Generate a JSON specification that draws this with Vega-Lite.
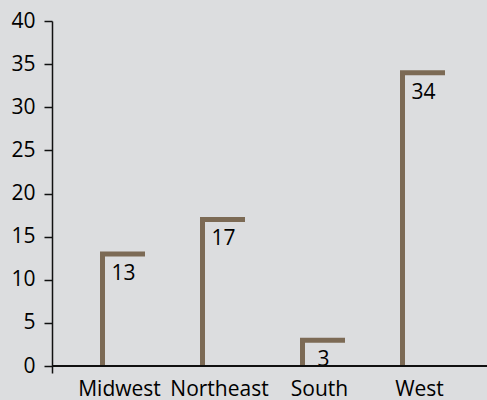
{
  "$schema": "https://vega.github.io/schema/vega-lite/v6.json",
  "autosize": {"type": "none"},
  "padding": {"left": 52, "top": 21, "right": 0, "bottom": 27},
  "width": 435,
  "height": 352,
  "background": "#dcdddf",
  "config": {
    "view": {"stroke": null},
    "font": "Open Sans",
    "text": {"font": "Open Sans"}
  },
  "data": {
    "values": [
      {"region": "Midwest", "count": 13},
      {"region": "Northeast", "count": 17},
      {"region": "South", "count": 3},
      {"region": "West", "count": 34}
    ]
  },
  "layer": [
    {
      "mark": {"type": "rule", "strokeWidth": 5, "strokeCap": "butt", "color": "#7c6a55", "xOffset": -17},
      "encoding": {
        "x": {
          "field": "region",
          "type": "nominal",
          "sort": null,
          "scale": {"paddingInner": 0, "paddingOuter": 0.175},
          "axis": {
            "title": null,
            "labelAngle": 0,
            "ticks": false,
            "tickSize": 0,
            "domain": false,
            "labelFontSize": 21,
            "labelPadding": 5,
            "labelColor": "#000000"
          }
        },
        "y": {
          "field": "count",
          "type": "quantitative",
          "scale": {"domain": [-0.8, 40], "nice": false, "zero": false},
          "axis": {
            "title": null,
            "values": [0, 5, 10, 15, 20, 25, 30, 35, 40],
            "grid": false,
            "domainColor": "#111111",
            "domainWidth": 1.5,
            "tickColor": "#111111",
            "tickWidth": 1.5,
            "tickSize": 8,
            "labelPadding": 9,
            "labelFontSize": 21,
            "labelColor": "#000000"
          }
        },
        "y2": {"datum": 0}
      }
    },
    {
      "mark": {"type": "rule", "strokeWidth": 5, "strokeCap": "butt", "color": "#7c6a55", "xOffset": -19.5, "x2Offset": 25.5},
      "encoding": {
        "x": {"field": "region", "type": "nominal", "sort": null},
        "x2": {"field": "region"},
        "y": {"field": "count", "type": "quantitative"}
      }
    },
    {
      "mark": {"type": "text", "fontSize": 21, "align": "center", "baseline": "alphabetic", "dx": 4, "dy": 26, "color": "#000000"},
      "encoding": {
        "x": {"field": "region", "type": "nominal", "sort": null},
        "y": {"field": "count", "type": "quantitative"},
        "text": {"field": "count", "type": "quantitative"}
      }
    },
    {
      "mark": {"type": "rule", "color": "#111111", "strokeWidth": 1.5},
      "encoding": {
        "y": {"datum": 0, "type": "quantitative"}
      }
    }
  ]
}
